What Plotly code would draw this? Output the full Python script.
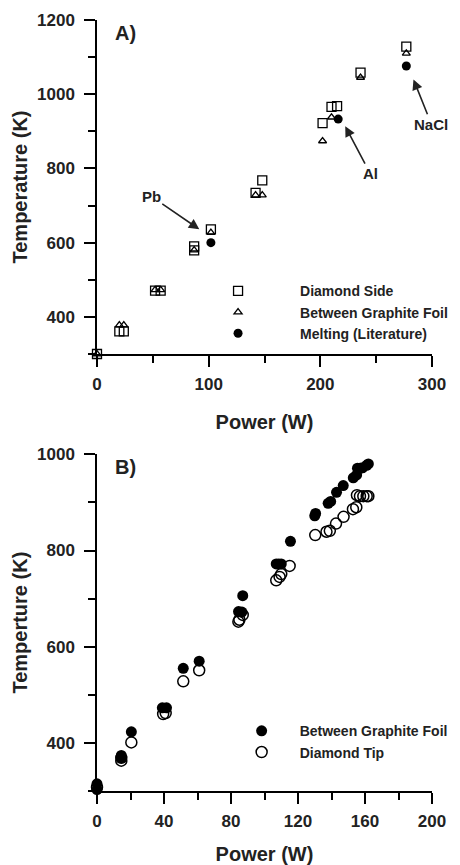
import plotly.graph_objects as go

# Panel A - calibration against melting points
side_x = [0, 20, 24, 52, 57, 87, 87, 102, 142, 148, 202, 210, 215, 236, 277]
side_y = [300, 361, 361, 471, 471, 590, 579, 636, 734, 768, 922, 966, 968, 1058, 1128]

foil_a_x = [0, 20, 24, 52, 57, 87, 102, 142, 148, 202, 210, 236, 277]
foil_a_y = [300, 378, 378, 473, 473, 580, 627, 728, 728, 874, 938, 1045, 1110]

melt_x = [102, 216, 277]
melt_y = [600, 933, 1076]

# Panel B - foil vs diamond tip
foil_b_x = [0, 0, 14.5, 14.5, 20.5, 39, 41.5, 51.5, 61, 84.5, 86.5, 87, 107, 108.5, 110, 115.5,
            130, 130.5, 138, 139.5, 143, 147, 153, 155, 155.5, 157, 158.5, 161, 162]
foil_b_y = [315, 303, 374, 369, 423, 473, 473, 555, 570, 673, 672, 706, 772, 772, 772, 819,
            872, 877, 898, 902, 921, 935, 951, 957, 971, 971, 972, 977, 980]

tip_x = [0, 0, 14.5, 14.5, 20.5, 39.5, 41, 51.5, 61, 84.4, 85, 87, 107, 109, 110, 115,
         130.3, 137, 139, 142.7, 147.2, 152.8, 154.8, 155.2, 157, 159, 161, 162]
tip_y = [308, 297, 369, 363, 401, 460, 462, 528, 551, 652, 656, 666, 738, 745, 751, 768,
         832, 839, 841, 856, 870, 886, 890, 915, 913, 913, 913, 913]

FONT = "Liberation Sans"

fig = go.Figure()

fig.add_trace(go.Scatter(x=side_x, y=side_y, mode="markers", name="Diamond Side",
                         marker=dict(symbol="square-open", size=9, color="black", line=dict(width=1.3)),
                         xaxis="x", yaxis="y", legend="legend", cliponaxis=False))
fig.add_trace(go.Scatter(x=foil_a_x, y=foil_a_y, mode="markers", name="Between Graphite Foil",
                         marker=dict(symbol="triangle-up-open", size=7, color="black", line=dict(width=1.3)),
                         xaxis="x", yaxis="y", legend="legend", cliponaxis=False))
fig.add_trace(go.Scatter(x=melt_x, y=melt_y, mode="markers", name="Melting (Literature)",
                         marker=dict(symbol="circle", size=9, color="black"),
                         xaxis="x", yaxis="y", legend="legend", cliponaxis=False))

fig.add_trace(go.Scatter(x=foil_b_x, y=foil_b_y, mode="markers", name="Between Graphite Foil",
                         marker=dict(symbol="circle", size=11, color="black"),
                         xaxis="x2", yaxis="y2", legend="legend2", cliponaxis=False))
fig.add_trace(go.Scatter(x=tip_x, y=tip_y, mode="markers", name="Diamond Tip",
                         marker=dict(symbol="circle-open", size=11, color="black", line=dict(width=1.5)),
                         xaxis="x2", yaxis="y2", legend="legend2", cliponaxis=False))

axis_style = dict(showline=True, linecolor="black", linewidth=1.5, ticks="outside",
                  ticklen=11, tickwidth=1.5, tickcolor="black", showgrid=False, zeroline=False,
                  automargin=False,
                  tickfont=dict(family=FONT, size=17, color="#222", weight="bold"))
title_font = dict(family=FONT, size=20, color="#222", weight="bold")
legend_font = dict(family=FONT, size=14, color="#222", weight="bold")
minor_style = dict(ticks="outside", ticklen=7, tickwidth=1.5, tickcolor="black")

# page body has an 8px margin, so the figure is a bit smaller than the window
fig.update_layout(
    width=452, height=857,
    margin=dict(l=89, r=28, t=12, b=74, autoexpand=False),
    paper_bgcolor="white", plot_bgcolor="white",
    xaxis=dict(axis_style, domain=[0, 1], anchor="y", range=[0, 300], dtick=100,
               ticklabelstandoff=3, minor=dict(minor_style, dtick=50),
               title=dict(text="Power (W)", font=title_font, standoff=22)),
    yaxis=dict(axis_style, domain=[0.5668, 1], anchor="x", range=[300, 1200], dtick=200, tick0=0,
               ticklabelstandoff=6, minor=dict(minor_style, dtick=100),
               title=dict(text="Temperature (K)", font=title_font, standoff=4)),
    xaxis2=dict(axis_style, domain=[0, 1], anchor="y2", range=[0, 200], dtick=40,
                ticklabelstandoff=3, minor=dict(minor_style, dtick=20),
                title=dict(text="Power (W)", font=title_font, standoff=21)),
    yaxis2=dict(axis_style, domain=[0, 0.4367], anchor="x2", range=[300, 1000], dtick=200, tick0=0,
                ticklabelstandoff=6, minor=dict(minor_style, dtick=100),
                title=dict(text="Temperture (K)", font=title_font, standoff=4)),
    legend=dict(x=0.236, y=0.6209, xanchor="left", yanchor="middle", itemwidth=114,
                font=legend_font, bgcolor="rgba(0,0,0,0)", tracegroupgap=0),
    legend2=dict(x=0.378, y=0.0639, xanchor="left", yanchor="middle", itemwidth=66,
                 font=legend_font, bgcolor="rgba(0,0,0,0)", tracegroupgap=0),
    showlegend=True,
)

label_font = dict(family=FONT, size=15, color="#222", weight="bold")
arrow = dict(showarrow=True, arrowhead=2, arrowsize=1.3, arrowwidth=1.6, arrowcolor="#222",
             xref="x", yref="y", axref="x", ayref="y", font=label_font)
fig.add_annotation(arrow, text="Pb", x=91.6, y=636, ax=48.6, ay=725)
fig.add_annotation(arrow, text="Al", x=222.3, y=914, ax=244.7, ay=786)
fig.add_annotation(arrow, text="NaCl", x=283.4, y=1040, ax=299.5, ay=919)

panel_font = dict(family=FONT, size=20, color="#222", weight="bold")
fig.add_annotation(text="A)", x=0.0836, y=0.983, xref="paper", yref="paper",
                   xanchor="center", yanchor="middle", showarrow=False, font=panel_font)
fig.add_annotation(text="B)", x=0.0836, y=0.420, xref="paper", yref="paper",
                   xanchor="center", yanchor="middle", showarrow=False, font=panel_font)

fig.write_html("out.html")
